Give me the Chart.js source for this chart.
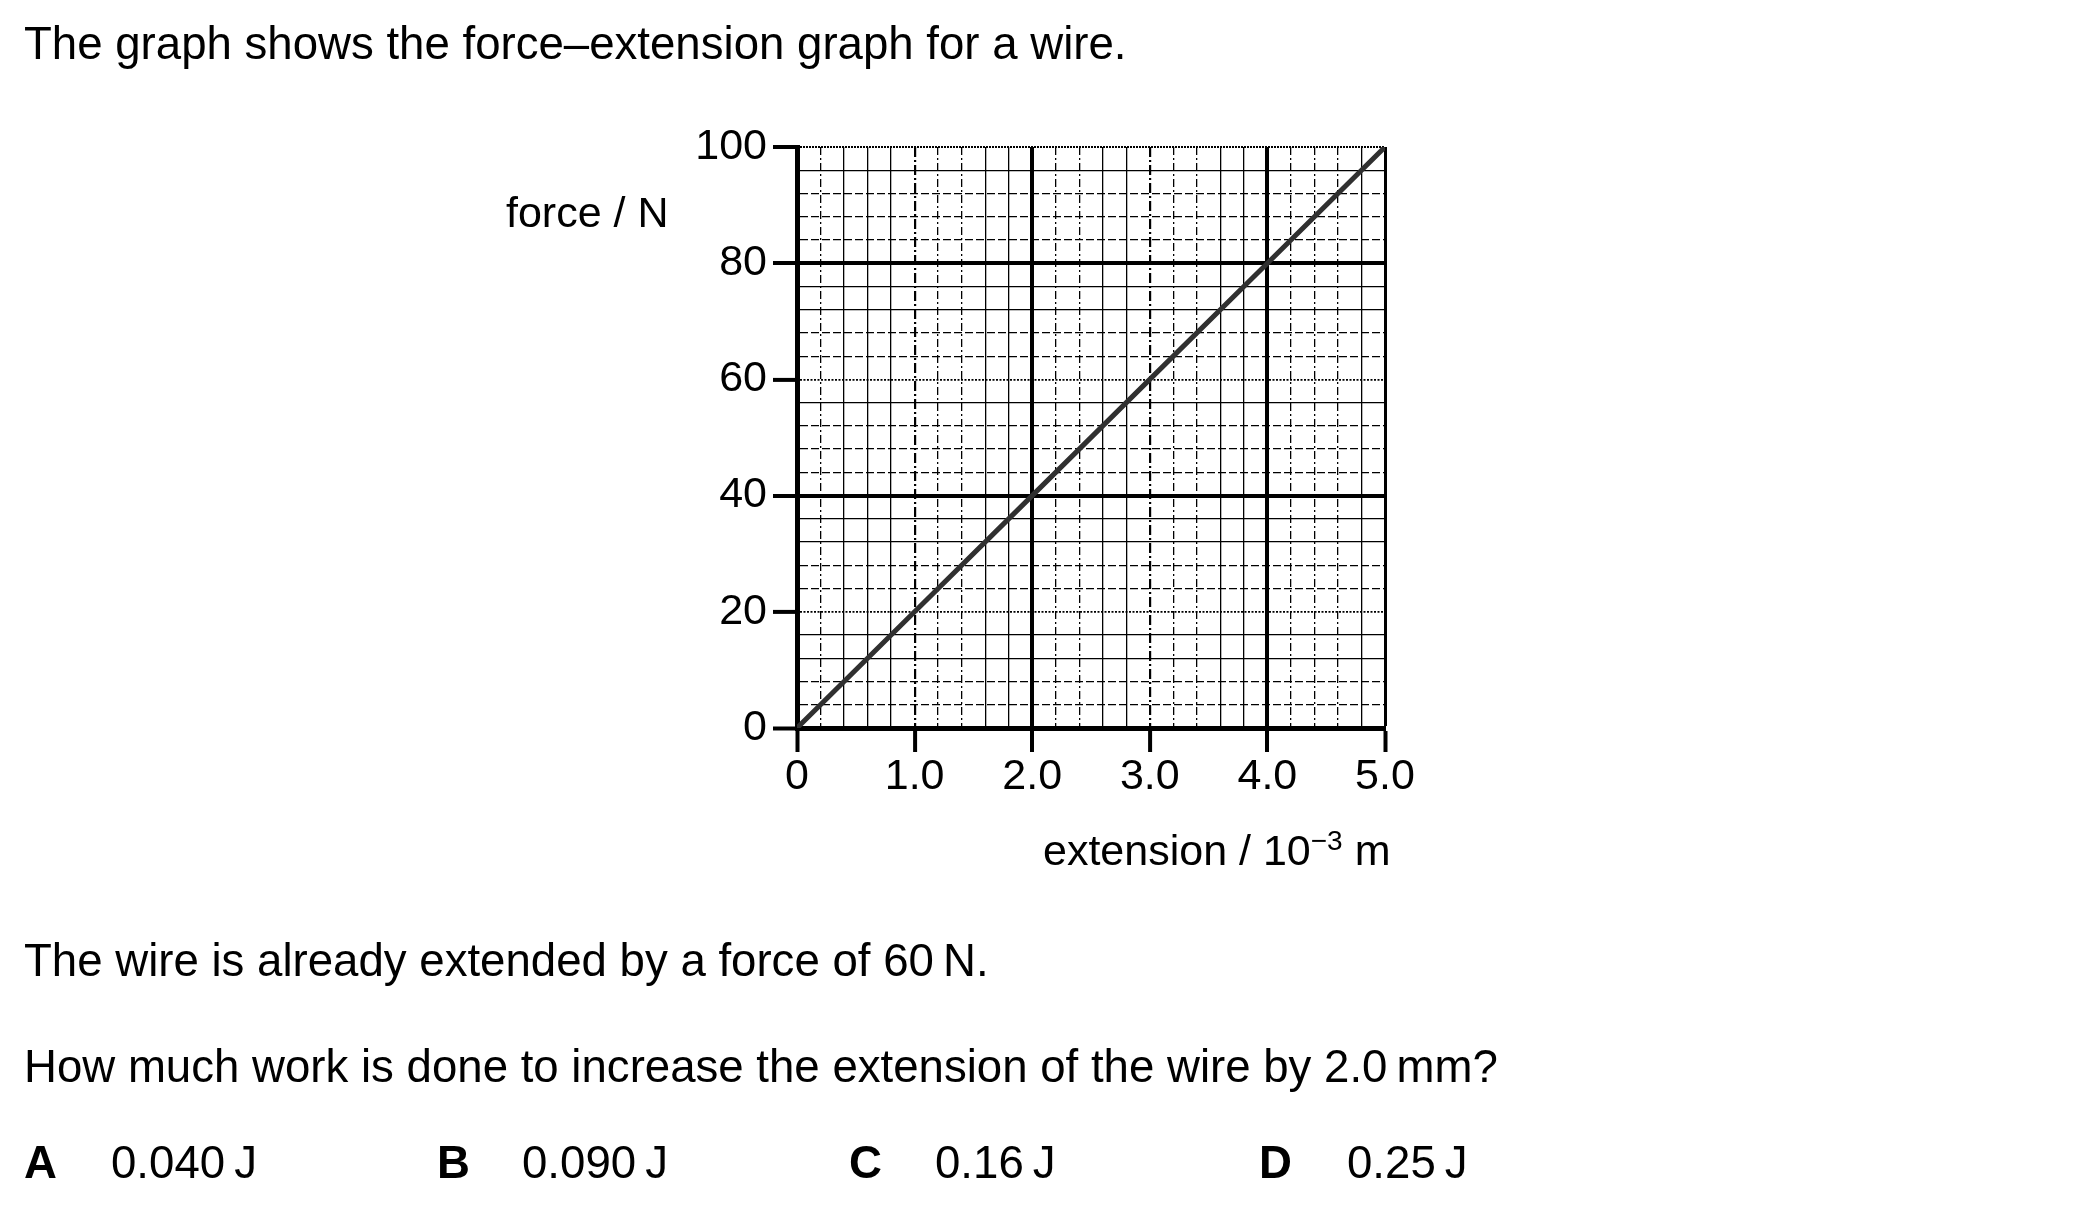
<!DOCTYPE html>
<html>
<head>
<meta charset="utf-8">
<script src="https://cdn.jsdelivr.net/npm/chart.js@4.4.1/dist/chart.umd.min.js"></script>
<style>
html,body{margin:0;padding:0;background:#fff;}
body{width:2100px;height:1216px;position:relative;overflow:hidden;font-family:"Liberation Sans",Arial,Helvetica,sans-serif;color:#000;}
#c{position:absolute;left:0;top:0;}
.t{position:absolute;white-space:nowrap;line-height:1;}
.b{font-weight:bold;}
.sup{font-size:28px;position:relative;top:-15px;}
</style>
</head>
<body>
<canvas id="c" width="2100" height="1216"></canvas>

<div class="t" style="left:24px;top:21px;font-size:45.6px">The graph shows the force–extension graph for a wire.</div>
<div class="t" style="left:506px;top:191px;font-size:43px">force / N</div>
<div class="t" style="left:1043px;top:829px;font-size:43px">extension / 10<span class="sup">−3</span> m</div>
<div class="t" style="left:24px;top:938px;font-size:45.6px">The wire is already extended by a force of 60&#8201;N.</div>
<div class="t" style="left:24px;top:1044px;font-size:45.6px">How much work is done to increase the extension of the wire by 2.0&#8201;mm?</div>
<div class="t b" style="left:24px;top:1140px;font-size:45.6px">A</div>
<div class="t" style="left:111px;top:1140px;font-size:45.6px">0.040&#8201;J</div>
<div class="t b" style="left:437px;top:1140px;font-size:45.6px">B</div>
<div class="t" style="left:522px;top:1140px;font-size:45.6px">0.090&#8201;J</div>
<div class="t b" style="left:849px;top:1140px;font-size:45.6px">C</div>
<div class="t" style="left:935px;top:1140px;font-size:45.6px">0.16&#8201;J</div>
<div class="t b" style="left:1259px;top:1140px;font-size:45.6px">D</div>
<div class="t" style="left:1347px;top:1140px;font-size:45.6px">0.25&#8201;J</div>

<script>
// ---- data ----
const extension = [0, 1.0, 2.0, 3.0, 4.0, 5.0];   // 10^-3 m
const force     = [0, 20, 40, 60, 80, 100];       // N
const xTickLabels = ['0', '1.0', '2.0', '3.0', '4.0', '5.0'];
const yTickLabels = ['0', '20', '40', '60', '80', '100'];
const xRange = [0, 5];
const yRange = [0, 100];
const xMinorStep = 0.2;
const yMinorStep = 4;

// ---- grid line styling (graph-paper look) ----
const V_STYLE = ['axis','dd','s','s','s','bdd','dd','dd','s','s','major','dd','dd','s','s','bdd','dd','dd','s','s','major','dd','dd','dd','s','edge'];
const H_STYLE = ['axis','d','d','s','s','dot','d','d','s','s','major','d','d','d','s','dot','d','d','s','s','major','d','d','d','s','top'];
const STYLES = {
  axis:  {w: 1,   c: 'rgba(0,0,0,0)', dash: []},
  s:     {w: 1.3, c: '#000', dash: []},
  d:     {w: 1.3, c: '#000', dash: [8, 3]},
  dd:    {w: 1.3, c: '#000', dash: [8, 3, 2, 3]},
  bdd:   {w: 2.2, c: '#000', dash: [10, 3, 2, 3]},
  major: {w: 4,   c: '#000', dash: []},
  dot:   {w: 1.8, c: '#000', dash: [2, 1.5]},
  edge:  {w: 3,   c: '#000', dash: []},
  top:   {w: 2,   c: '#000', dash: [2, 1]}
};
function st(list, ctx) {
  const i = ctx && ctx.index !== undefined ? ctx.index : -1;
  return STYLES[list[i]] || STYLES.s;
}
function labelFor(labels, v) {
  for (const l of labels) { if (Math.abs(Number(l) - v) < 1e-6) return l; }
  return '';
}

const points = extension.map((x, i) => ({x: x, y: force[i]}));

new Chart(document.getElementById('c'), {
  type: 'scatter',
  data: {
    datasets: [{
      data: points,
      showLine: true,
      borderColor: '#303030',
      borderWidth: 5,
      pointRadius: 0,
      pointHoverRadius: 0,
      borderCapStyle: 'butt',
      tension: 0
    }]
  },
  options: {
    responsive: false,
    animation: false,
    events: [],
    layout: {padding: {left: 0, right: 715, top: 147, bottom: 388}},
    plugins: {legend: {display: false}, tooltip: {enabled: false}, title: {display: false}},
    scales: {
      x: {
        type: 'linear',
        min: xRange[0], max: xRange[1],
        afterFit: s => { s.height = 100; },
        border: {display: true, color: '#000', width: 5,
                 dash: ctx => st(V_STYLE, ctx).dash},
        grid: {
          drawOnChartArea: true, drawTicks: true,
          tickLength: 24, tickWidth: 4,
          tickColor: ctx => (ctx.tick && labelFor(xTickLabels, ctx.tick.value) !== '') ? '#000' : 'rgba(0,0,0,0)',
          color: ctx => st(V_STYLE, ctx).c,
          lineWidth: ctx => st(V_STYLE, ctx).w
        },
        ticks: {
          stepSize: xMinorStep, autoSkip: false, maxRotation: 0, minRotation: 0, maxTicksLimit: 40,
          padding: 4, color: '#000',
          font: {family: 'Liberation Sans', size: 43, lineHeight: 1},
          callback: v => labelFor(xTickLabels, v)
        }
      },
      y: {
        type: 'linear',
        min: yRange[0], max: yRange[1],
        afterFit: s => { s.width = 797; },
        border: {display: true, color: '#000', width: 5,
                 dash: ctx => st(H_STYLE, ctx).dash},
        grid: {
          drawOnChartArea: true, drawTicks: true,
          tickLength: 24, tickWidth: 4,
          tickColor: ctx => (ctx.tick && labelFor(yTickLabels, ctx.tick.value) !== '') ? '#000' : 'rgba(0,0,0,0)',
          color: ctx => st(H_STYLE, ctx).c,
          lineWidth: ctx => st(H_STYLE, ctx).w
        },
        ticks: {
          stepSize: yMinorStep, autoSkip: false, maxTicksLimit: 40,
          padding: 6, color: '#000',
          font: {family: 'Liberation Sans', size: 43, lineHeight: 1},
          callback: v => labelFor(yTickLabels, v)
        }
      }
    }
  }
});
</script>
</body>
</html>
